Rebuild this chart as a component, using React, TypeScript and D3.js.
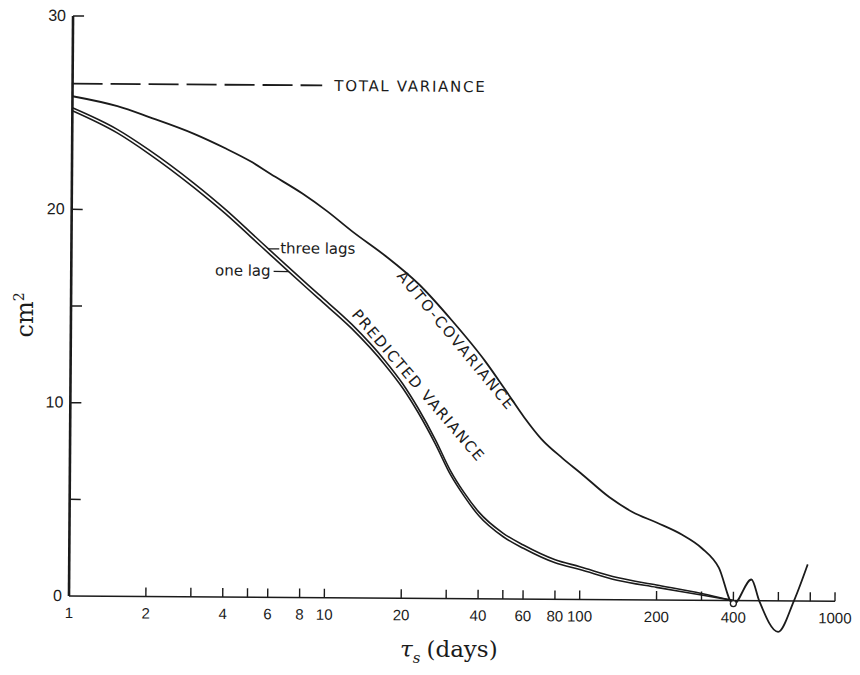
import React from 'react';
import * as d3 from 'd3';

// ---- data (days, cm^2) ----
const autoDays = [1, 1.5, 2, 3, 4, 5, 6, 8, 10, 12.6, 17, 23, 31, 42, 50, 60, 70, 85, 100, 130, 160, 200, 250, 300, 350, 400, 470, 505, 600, 690, 780];
const autoVals = [25.85, 25.35, 24.8, 23.95, 23.2, 22.55, 21.9, 20.9, 20.0, 18.95, 17.7, 16.25, 14.4, 12.3, 10.9, 9.4, 8.3, 7.3, 6.55, 5.3, 4.55, 4.0, 3.4, 2.7, 1.7, -0.2, 1.1, 0, -1.6, 0, 1.9];

const threeDays = [1, 1.5, 2, 3, 4, 5, 6, 7, 9.3, 12.6, 17, 20, 23, 27, 31, 35, 40, 50, 60, 80, 100, 140, 200, 300, 400];
const threeVals = [25.25, 24.15, 23.1, 21.4, 20.05, 18.9, 17.95, 17.15, 15.7, 14.15, 12.3, 11.1, 9.85, 8.2, 6.6, 5.5, 4.5, 3.4, 2.8, 2.05, 1.7, 1.15, 0.78, 0.36, 0];

const oneDays = [1, 1.5, 2, 3, 4, 5, 6, 7, 9.3, 12.6, 17, 20, 23, 27, 31, 35, 40, 50, 60, 80, 100, 140, 200, 300, 400];
const oneVals = [25.1, 23.97, 22.9, 21.18, 19.83, 18.68, 17.73, 16.93, 15.48, 13.93, 12.08, 10.88, 9.63, 7.98, 6.4, 5.32, 4.31, 3.22, 2.63, 1.89, 1.55, 1.01, 0.66, 0.28, 0];

const totalVariance = 26.5;
const convergeDays = [400];
const convergeVals = [-0.15];

const xLabeledTicks = [1, 2, 4, 6, 8, 10, 20, 40, 60, 80, 100, 200, 400, 1000];
const xMinorTicks = [3, 5, 30, 50, 300, 600, 800];
const yLabeledTicks = [0, 10, 20, 30];
const yMinorTicks = [5, 15];

const W = 860;
const H = 675;

export default function App() {
  const x = d3.scaleLog().domain([1, 1000]).range([69, 835]);
  const y = d3.scaleLinear().domain([0, 30]).range([596, 16]);

  const line = d3
    .line<[number, number]>()
    .x((d) => x(d[0]))
    .y((d) => y(d[1]))
    .curve(d3.curveMonotoneX);

  const zip = (a: number[], b: number[]) => a.map((v, i) => [v, b[i]] as [number, number]);

  const sans = 'DejaVu Sans, Verdana, sans-serif';
  const digits = 'Liberation Sans, Arial, sans-serif';
  const serif = 'DejaVu Serif, Liberation Serif, serif';
  const ink = '#1b1b1b';

  const tickLen = 9;
  const yTickLen = 11;

  // annotation anchors (on the curves)
  const threeAnchor: [number, number] = [5.9, 18.03];
  const oneAnchor: [number, number] = [7.1, 16.86];

  return (
    <svg
      width={W}
      height={H}
      viewBox={`0 0 ${W} ${H}`}
      style={{ position: 'absolute', left: 0, top: 0, background: '#fff' }}
    >
      <rect x={0} y={0} width={W} height={H} fill="#fff" />
      <g transform="rotate(0.4 69 596)">
        {/* axes */}
        <line x1={x(1)} y1={y(0)} x2={x(1)} y2={y(30)} stroke={ink} strokeWidth={2.6} />
        <line x1={x(1)} y1={y(0)} x2={x(1000)} y2={y(0)} stroke={ink} strokeWidth={1.5} />

        {/* x ticks */}
        {xLabeledTicks.concat(xMinorTicks).filter((t) => t !== 1).map((t) => (
          <line key={'xt' + t} x1={x(t)} x2={x(t)} y1={y(0)} y2={y(0) - tickLen} stroke={ink} strokeWidth={1.4} />
        ))}
        {xLabeledTicks.map((t) => (
          <text
            key={'xl' + t}
            x={x(t)}
            y={y(0) + 22}
            textAnchor="middle"
            fontFamily={digits}
            fontSize={15}
            fill={ink}
          >
            {t}
          </text>
        ))}

        {/* y ticks */}
        {yLabeledTicks.concat(yMinorTicks).filter((t) => t !== 0).map((t) => (
          <line key={'yt' + t} x1={x(1)} x2={x(1) + yTickLen} y1={y(t)} y2={y(t)} stroke={ink} strokeWidth={1.5} />
        ))}
        {yLabeledTicks.map((t) => (
          <text
            key={'yl' + t}
            x={x(1) - 7}
            y={y(t) + 5}
            textAnchor="end"
            fontFamily={digits}
            fontSize={16}
            fill={ink}
          >
            {t}
          </text>
        ))}

        {/* total variance dashed */}
        <line
          x1={x(1)}
          x2={x(9.5)}
          y1={y(totalVariance)}
          y2={y(totalVariance)}
          stroke={ink}
          strokeWidth={1.8}
          strokeDasharray="30 8"
        />
        <text
          x={x(10.6)}
          y={y(totalVariance) + 5.5}
          fontFamily={sans}
          fontSize={15}
          letterSpacing={1.7}
          fill={ink}
        >
          TOTAL  VARIANCE
        </text>

        {/* curves */}
        <path d={line(zip(autoDays, autoVals)) || ''} fill="none" stroke={ink} strokeWidth={1.8} />
        <path d={line(zip(threeDays, threeVals)) || ''} fill="none" stroke={ink} strokeWidth={1.6} />
        <path d={line(zip(oneDays, oneVals)) || ''} fill="none" stroke={ink} strokeWidth={1.6} />
        {convergeDays.map((d, i) => (
          <circle key={'c' + i} cx={x(d)} cy={y(convergeVals[i])} r={3} fill="#fff" stroke={ink} strokeWidth={1.3} />
        ))}

        {/* curve labels */}
        <text
          transform={`translate(394,274) rotate(50)`}
          fontFamily={sans}
          fontSize={15}
          letterSpacing={2}
          fill={ink}
        >
          AUTO-COVARIANCE
        </text>
        <text
          transform={`translate(349,313) rotate(49)`}
          fontFamily={sans}
          fontSize={15}
          letterSpacing={1.6}
          fill={ink}
        >
          PREDICTED VARIANCE
        </text>

        {/* lag annotations */}
        <line
          x1={x(threeAnchor[0])}
          x2={x(threeAnchor[0]) + 11}
          y1={y(threeAnchor[1])}
          y2={y(threeAnchor[1])}
          stroke={ink}
          strokeWidth={1.3}
        />
        <text
          x={x(threeAnchor[0]) + 12}
          y={y(threeAnchor[1]) + 4.5}
          fontFamily={sans}
          fontSize={15}
          fill={ink}
        >
          three lags
        </text>
        <line
          x1={x(oneAnchor[0]) - 15}
          x2={x(oneAnchor[0])}
          y1={y(oneAnchor[1])}
          y2={y(oneAnchor[1])}
          stroke={ink}
          strokeWidth={1.3}
        />
        <text
          x={x(oneAnchor[0]) - 18}
          y={y(oneAnchor[1]) + 4.5}
          textAnchor="end"
          fontFamily={sans}
          fontSize={15}
          fill={ink}
        >
          one lag
        </text>
      </g>

      {/* axis titles */}
      <text x={400} y={657} fontFamily={serif} fontSize={23} fill={ink}>
        <tspan fontStyle="italic">τ</tspan>
        <tspan fontStyle="italic" fontSize={15} dy={6}>s</tspan>
        <tspan dy={-6} dx={6}>(days)</tspan>
      </text>
      <text
        transform="translate(33,315) rotate(-90)"
        textAnchor="middle"
        fontFamily={serif}
        fontSize={24}
        fill={ink}
      >
        cm
        <tspan fontSize={14} dy={-9}>2</tspan>
      </text>
    </svg>
  );
}
